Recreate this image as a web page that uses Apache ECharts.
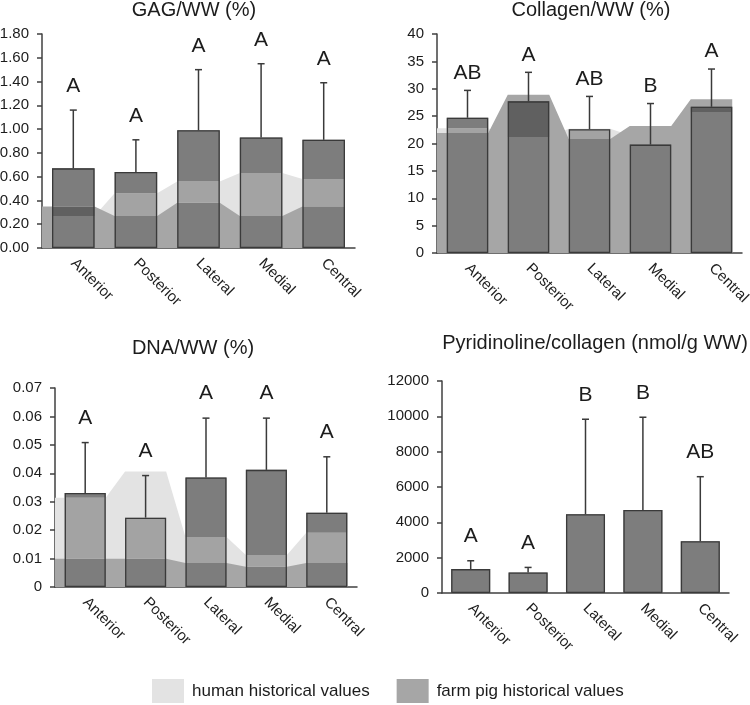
<!DOCTYPE html>
<html>
<head>
<meta charset="utf-8">
<script src="https://cdn.jsdelivr.net/npm/echarts@6/dist/echarts.min.js"></script>
<style>
  html, body { margin: 0; padding: 0; background: #fff; }
  #chart { width: 750px; height: 705px; }
</style>
</head>
<body>
<div id="chart"></div>
<script>
// categories shared by all four panels
const categories = ['Anterior', 'Posterior', 'Lateral', 'Medial', 'Central']

// GAG/WW (%)
const gagMean = [0.67, 0.64, 0.99, 0.93, 0.91]
const gagSD = [0.49, 0.27, 0.51, 0.62, 0.48]
const gagHuman = [0.27, 0.46, 0.56, 0.63, 0.58]
const gagPig = [0.35, 0.27, 0.38, 0.27, 0.35]
const gagLetters = ['A', 'A', 'A', 'A', 'A']

// Collagen/WW (%)
const colMean = [24.7, 27.7, 22.6, 19.8, 26.7]
const colSD = [5.0, 5.3, 6.0, 7.5, 6.9]
const colHuman = [22.8, 21.2, 22.7, 21.5, 25.7]
const colPig = [21.9, 28.9, 20.8, 23.2, 28.1]
const colLetters = ['AB', 'A', 'AB', 'B', 'A']

// DNA/WW (%)
const dnaMean = [0.0331, 0.0244, 0.0385, 0.0412, 0.0261]
const dnaSD = [0.0177, 0.0148, 0.0209, 0.0182, 0.0197]
const dnaHuman = [0.0314, 0.0406, 0.0176, 0.0113, 0.0191]
const dnaPig = [0.0099, 0.0099, 0.0084, 0.0071, 0.0084]
const dnaLetters = ['A', 'A', 'A', 'A', 'A']

// Pyridinoline/collagen (nmol/g WW)
const pyrMean = [1354, 1166, 4457, 4702, 2934]
const pyrSD = [470, 282, 5379, 5247, 3649]
const pyrLetters = ['A', 'A', 'B', 'B', 'AB']

const FONT = 'Liberation Sans, Arial, sans-serif'
const TEXT = '#1c1c1c'
const AXIS = '#404040'
const BAR = '#7d7d7d'
const BAR_LIGHT = '#a3a3a3' // bar over human-only band
const BAR_DARK = '#606060' // bar over pig-only band
const HUMAN = '#e3e3e3'
const PIG = '#a6a6a6'
const HALF = 0.34 // half bar width in category units

const panels = [
  {
    title: 'GAG/WW (%)', tx: 194, ty: 0,
    grid: { left: 42, top: 34, width: 313, height: 214 },
    max: 1.8, interval: 0.2, fmt: v => v.toFixed(2), gap: 13,
    mean: gagMean, sd: gagSD, human: gagHuman, pig: gagPig, letters: gagLetters
  },
  {
    title: 'Collagen/WW (%)', tx: 591, ty: 0,
    grid: { left: 437, top: 34, width: 305, height: 219 },
    max: 40, interval: 5, fmt: v => String(v), gap: 7,
    mean: colMean, sd: colSD, human: colHuman, pig: colPig, letters: colLetters
  },
  {
    title: 'DNA/WW (%)', tx: 193, ty: 338,
    grid: { left: 55, top: 388, width: 302, height: 199 },
    max: 0.07, interval: 0.01, fmt: v => (v === 0 ? '0' : v.toFixed(2)), gap: 14,
    mean: dnaMean, sd: dnaSD, human: dnaHuman, pig: dnaPig, letters: dnaLetters
  },
  {
    title: 'Pyridinoline/collagen (nmol/g WW)', tx: 595, ty: 333,
    grid: { left: 442, top: 381, width: 287, height: 212 },
    max: 12000, interval: 2000, fmt: v => String(v), gap: 14,
    mean: pyrMean, sd: pyrSD, human: null, pig: null, letters: pyrLetters
  }
]

// flat band over each bar, sloping between bars
function bandPoints(vals) {
  const pts = [[-0.5, vals[0]]]
  vals.forEach((v, i) => {
    pts.push([i - HALF, v], [i + HALF, v])
  })
  return pts
}

const titles = []
const grids = []
const xAxes = []
const yAxes = []
const series = []

panels.forEach((p, k) => {
  titles.push({
    text: p.title, left: p.tx, top: p.ty, textAlign: 'center', padding: 0,
    textStyle: { fontSize: 20, fontWeight: 'normal', color: TEXT, fontFamily: FONT }
  })
  grids.push(Object.assign({ containLabel: false, outerBoundsMode: 'none' }, p.grid))
  xAxes.push({
    type: 'category', gridIndex: k, data: categories,
    axisLine: { onZero: false, lineStyle: { color: AXIS, width: 1.5 } },
    axisTick: { show: false },
    axisLabel: { rotate: -45, margin: 13, fontSize: 15, color: TEXT, fontFamily: FONT, interval: 0 },
    splitLine: { show: false }
  })
  xAxes.push({ type: 'value', gridIndex: k, min: -0.5, max: 4.5, show: false })
  yAxes.push({
    type: 'value', gridIndex: k, min: 0, max: p.max, interval: p.interval,
    axisLine: { show: true, onZero: false, lineStyle: { color: AXIS, width: 1.5 } },
    axisTick: { show: true, length: 5, lineStyle: { color: AXIS, width: 1.5 } },
    axisLabel: { margin: 13, fontSize: 15, color: TEXT, fontFamily: FONT, formatter: p.fmt },
    splitLine: { show: false }
  })

  if (p.human) {
    series.push({
      name: 'human historical values', type: 'line', xAxisIndex: 2 * k + 1, yAxisIndex: k,
      data: bandPoints(p.human), symbol: 'none', silent: true, z: 1,
      lineStyle: { width: 0, color: HUMAN }, itemStyle: { color: HUMAN },
      areaStyle: { color: HUMAN, opacity: 1 }
    })
    series.push({
      name: 'farm pig historical values', type: 'line', xAxisIndex: 2 * k + 1, yAxisIndex: k,
      data: bandPoints(p.pig), symbol: 'none', silent: true, z: 2,
      lineStyle: { width: 0, color: PIG }, itemStyle: { color: PIG },
      areaStyle: { color: PIG, opacity: 1 }
    })
  }

  // split each bar where it crosses the bands so the shading shows through
  const lo = [], mid = [], hi = []
  p.mean.forEach((v, i) => {
    const h = p.human ? p.human[i] : 0
    const g = p.pig ? p.pig[i] : 0
    const a = Math.min(h, g)
    const b = Math.max(h, g)
    lo.push(Math.min(v, a))
    mid.push({ value: Math.max(0, Math.min(v, b) - a), itemStyle: { color: h > g ? BAR_LIGHT : BAR_DARK } })
    hi.push(Math.max(0, v - b))
  })
  const barBase = {
    type: 'bar', xAxisIndex: 2 * k, yAxisIndex: k, stack: 'bar' + k,
    barWidth: '68%', silent: true, z: 3
  }
  series.push(Object.assign({ data: lo, itemStyle: { color: BAR } }, barBase))
  series.push(Object.assign({ data: mid }, barBase))
  series.push(Object.assign({ data: hi, itemStyle: { color: BAR } }, barBase))
  // outline
  series.push({
    type: 'bar', xAxisIndex: 2 * k, yAxisIndex: k, data: p.mean, barWidth: '68%', barGap: '-100%',
    silent: true, z: 4,
    itemStyle: { color: 'rgba(0,0,0,0)', borderColor: '#3a3a3a', borderWidth: 1.3 }
  })
  // upper error bars with letters
  series.push({
    type: 'custom', xAxisIndex: 2 * k, yAxisIndex: k, silent: true, z: 5,
    data: p.mean.map((v, i) => [i, v, v + p.sd[i]]),
    renderItem: function (params, api) {
      const i = api.value(0)
      const base = api.coord([i, api.value(1)])
      const top = api.coord([i, api.value(2)])
      return {
        type: 'group',
        children: [
          { type: 'line', shape: { x1: base[0], y1: base[1], x2: top[0], y2: top[1] },
            style: { stroke: '#3a3a3a', lineWidth: 1.5 } },
          { type: 'line', shape: { x1: top[0] - 3.5, y1: top[1], x2: top[0] + 3.5, y2: top[1] },
            style: { stroke: '#3a3a3a', lineWidth: 1.5 } },
          { type: 'text', x: top[0], y: top[1] - p.gap,
            style: { text: p.letters[i], fill: TEXT, font: '21px ' + FONT, align: 'center', verticalAlign: 'bottom' } }
        ]
      }
    }
  })
})

const chart = echarts.init(document.getElementById('chart'))
chart.setOption({
  animation: false,
  backgroundColor: '#fff',
  title: titles,
  grid: grids,
  xAxis: xAxes,
  yAxis: yAxes,
  legend: {
    data: ['human historical values', 'farm pig historical values'],
    left: 152, top: 679, padding: 0, icon: 'rect',
    itemWidth: 32, itemHeight: 24, itemGap: 27, selectedMode: false,
    textStyle: { fontSize: 17, color: TEXT, fontFamily: FONT, padding: [0, 0, 0, 3] }
  },
  series: series
})
</script>
</body>
</html>
